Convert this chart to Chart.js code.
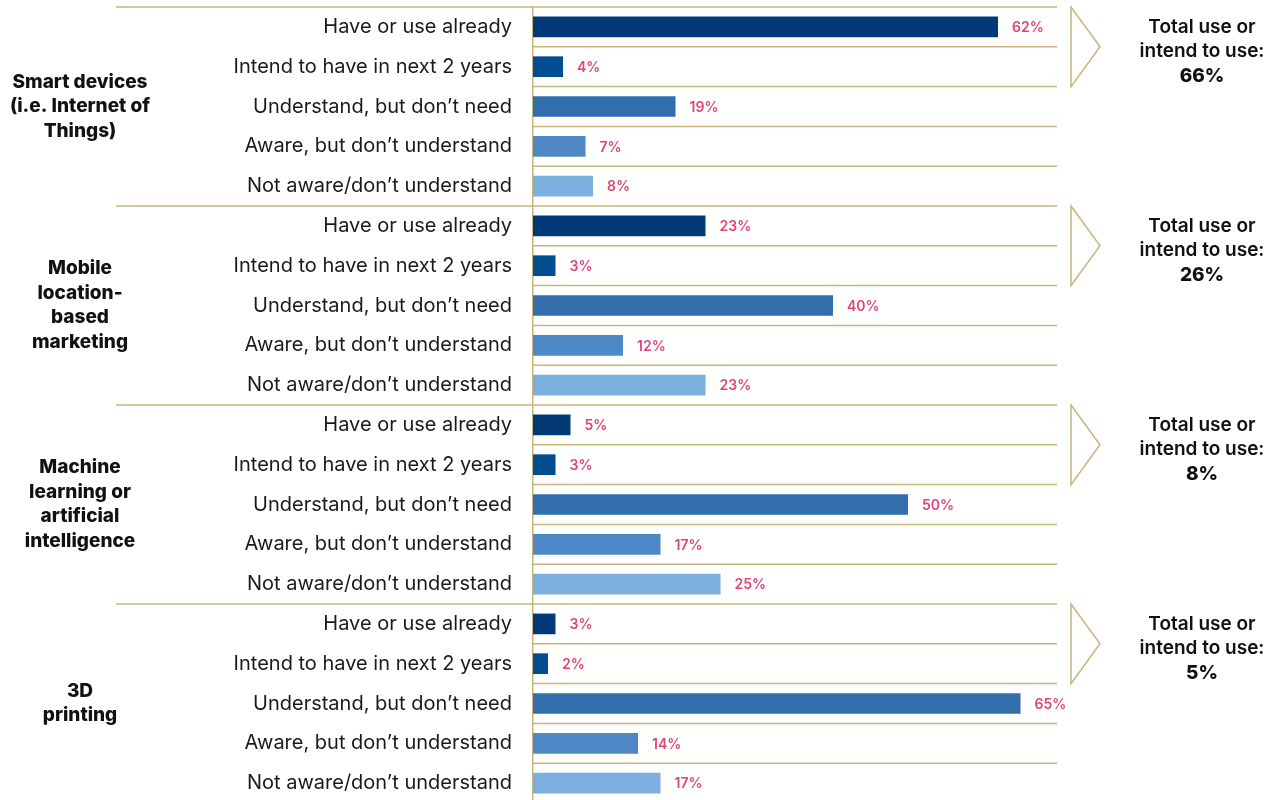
<!DOCTYPE html>
<html>
<head>
<meta charset="utf-8">
<script src="https://cdn.jsdelivr.net/npm/chart.js@4/dist/chart.umd.min.js"></script>
<style>
  html, body { margin: 0; padding: 0; background: #fff; overflow: hidden; }
  #wrap { width: 1279px; height: 803px; position: relative; }
</style>
</head>
<body>
<div id="wrap"><canvas id="chart"></canvas></div>
<script>
const responses = [
  "Have or use already",
  "Intend to have in next 2 years",
  "Understand, but don’t need",
  "Aware, but don’t understand",
  "Not aware/don’t understand"
];

const groupNames = [
  ["Smart devices", "(i.e. Internet of", "Things)"],
  ["Mobile", "location-", "based", "marketing"],
  ["Machine", "learning or", "artificial", "intelligence"],
  ["3D", "printing"]
];

const smartDevices = [62, 4, 19, 7, 8];
const mobileLocation = [23, 3, 40, 12, 23];
const machineLearning = [5, 3, 50, 17, 25];
const printing3d = [3, 2, 65, 14, 17];

const totalUse = [66, 26, 8, 5];

const responseColors = ["#023a78", "#024d8f", "#326eab", "#4f88c6", "#7caede"];
const gold = "#c8b57c";
const pink = "#df4579";

const groups = [smartDevices, mobileLocation, machineLearning, printing3d];
const labels = [];
const values = [];
const colors = [];
groups.forEach(g => {
  g.forEach((v, i) => {
    labels.push(responses[i]);
    values.push(v);
    colors.push(responseColors[i]);
  });
});

const font = "Inter, 'Noto Sans', sans-serif";

const extras = {
  id: "extras",
  beforeDatasetsDraw(chart) {
    const ctx = chart.ctx;
    const y = chart.scales.y;
    const half = (y.getPixelForValue(1) - y.getPixelForValue(0)) / 2;
    const left = chart.chartArea.left;
    ctx.save();
    ctx.strokeStyle = gold;
    ctx.lineWidth = 1.5;
    for (let i = 0; i < labels.length; i++) {
      const yy = y.getPixelForValue(i) - half;
      ctx.beginPath();
      ctx.moveTo(i % 5 === 0 ? 116 : left, yy);
      ctx.lineTo(1057, yy);
      ctx.stroke();
    }
    ctx.restore();
  },
  afterDraw(chart) {
    const ctx = chart.ctx;
    const y = chart.scales.y;
    const x = chart.scales.x;
    const half = (y.getPixelForValue(1) - y.getPixelForValue(0)) / 2;
    ctx.save();

    // value labels
    ctx.font = "600 14px " + font;
    ctx.fillStyle = pink;
    ctx.textAlign = "left";
    ctx.textBaseline = "middle";
    values.forEach((v, i) => {
      ctx.fillText(v + "%", x.getPixelForValue(v) + 14, y.getPixelForValue(i) + 1);
    });

    groups.forEach((g, gi) => {
      const first = gi * 5;
      const top = y.getPixelForValue(first) - half;
      const bottom = y.getPixelForValue(first + 4) + half;
      const mid = (top + bottom) / 2;

      // group name on the left
      ctx.font = "800 19px " + font;
      ctx.fillStyle = "#111";
      ctx.textAlign = "center";
      const lines = groupNames[gi];
      const lh = 24.5;
      lines.forEach((t, li) => {
        ctx.fillText(t, 80, mid + (li - (lines.length - 1) / 2) * lh);
      });

      // chevron
      const tip = y.getPixelForValue(first) + half;
      ctx.strokeStyle = gold;
      ctx.lineWidth = 1.5;
      ctx.beginPath();
      ctx.moveTo(1071, top);
      ctx.lineTo(1100, tip);
      ctx.lineTo(1071, tip + 2 * half);
      ctx.closePath();
      ctx.stroke();

      // total text
      const ty = y.getPixelForValue(first);
      ctx.fillStyle = "#111";
      ctx.font = "600 19px " + font;
      ctx.fillText("Total use or", 1202, ty);
      ctx.fillText("intend to use:", 1202, ty + 24);
      ctx.font = "800 19px " + font;
      ctx.fillText(totalUse[gi] + "%", 1202, ty + 49);
    });
    ctx.restore();
  }
};

new Chart(document.getElementById("chart"), {
  type: "bar",
  data: {
    labels: labels,
    datasets: [{
      data: values,
      backgroundColor: colors,
      barPercentage: 0.52,
      categoryPercentage: 1
    }]
  },
  options: {
    indexAxis: "y",
    responsive: true,
    maintainAspectRatio: false,
    animation: false,
    layout: { padding: { top: 7, right: 26, bottom: 0, left: 0 } },
    plugins: {
      legend: { display: false },
      tooltip: { enabled: false }
    },
    scales: {
      x: { display: false, min: 0, max: 96 },
      y: {
        grid: { display: false, drawTicks: false },
        border: { display: true, color: gold, width: 1.5 },
        ticks: {
          autoSkip: false,
          padding: 21,
          color: "#1a1a1a",
          font: { family: font, size: 20, weight: "400" }
        },
        afterFit(scale) {
          scale.width = 533;
          scale.paddingTop = 0;
          scale.paddingBottom = 0;
        }
      }
    }
  },
  plugins: [extras]
});
</script>
</body>
</html>
